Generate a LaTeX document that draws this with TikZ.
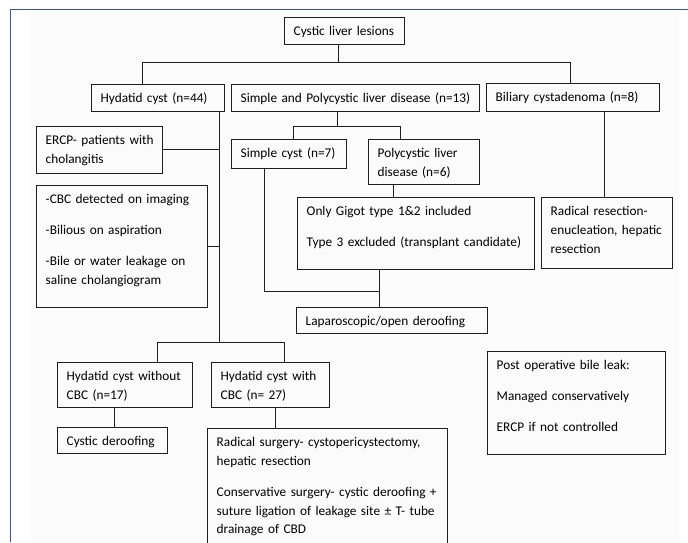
\documentclass[tikz,border=0pt]{standalone}
\usepackage{fontspec}
\setmainfont{Carlito}
\definecolor{frameblue}{RGB}{55,90,165}
\definecolor{ink}{RGB}{30,30,30}
\newcommand\mybox[6]{%
  \node[box, minimum width=#4pt, minimum height=#5pt] (#1) at (#2,#3) {};
  \node[txt] (#1t) at ([shift={(9.5pt,-18.5pt)}]#1.north west) {#6};}
\begin{document}
\begin{tikzpicture}[x=1pt,y=-1pt,
  box/.style={draw=ink, line width=0.95pt, rectangle, inner sep=0pt, outer sep=0pt, anchor=north west},
  txt/.style={anchor=base west, inner sep=0pt, text width=300pt, align=left,
    font=\fontsize{13.3}{18.8}\selectfont, text=black},
  conn/.style={draw=ink, line width=0.95pt}]
\useasboundingbox (0,0) rectangle (688,542);
\clip (0,0) rectangle (688,542);
\fill[black!1.5] (31,10) rectangle (679,542);
\draw[frameblue, line width=1.6pt] (10.5,542) -- (10.5,9.5) -- (688,9.5);

\mybox{top}{284}{17}{120}{27}{Cystic liver lesions}
\mybox{hyd}{91}{84}{133}{27}{Hydatid cyst (n=44)}
\mybox{simp}{231}{84}{248}{27}{Simple and Polycystic liver disease (n=13)}
\mybox{bil}{486}{83}{173}{28}{Biliary cystadenoma (n=8)}
\mybox{ercp}{36}{126}{126}{47}{ERCP- patients with\\cholangitis}
\mybox{cbc}{36}{185}{171}{122}{-CBC detected on imaging\\[12.2pt]-Bilious on aspiration\\[12.2pt]-Bile or water leakage on\\saline cholangiogram}
\mybox{scyst}{231}{139}{115}{29}{Simple cyst (n=7)}
\mybox{poly}{368}{139}{111}{45}{Polycystic liver\\disease (n=6)}
\mybox{gig}{297}{197}{237}{72}{Only Gigot type 1\&2 included\\[12.2pt]Type 3 excluded (transplant candidate)}
\mybox{radres}{541}{197}{131}{71}{Radical resection-\\enucleation, hepatic\\resection}
\mybox{lap}{296}{307}{191}{26}{Laparoscopic/open deroofing}
\mybox{post}{487}{351}{178}{103}{Post operative bile leak:\\[12.2pt]Managed conservatively\\[12.2pt]ERCP if not controlled}
\mybox{wo}{57}{362}{135}{45}{Hydatid cyst without\\CBC (n=17)}
\mybox{with}{211}{362}{118}{45}{Hydatid cyst with\\CBC (n= 27)}
\mybox{cdr}{57}{427}{110}{26}{Cystic deroofing}
\mybox{rsurg}{207}{428}{240}{130}{Radical surgery- cystopericystectomy,\\hepatic resection\\[12.2pt]Conservative surgery- cystic deroofing +\\suture ligation of leakage site ± T- tube\\drainage of CBD}

% junction coordinates
\coordinate (a1) at (338,62);
\coordinate (h1) at (142,62);
\coordinate (b1) at (570,62);
\coordinate (s1) at (337,126);
\coordinate (s2) at (293,126);
\coordinate (s3) at (400,126);
\coordinate (hv) at (219,342);
\coordinate (hl) at (157,342);
\coordinate (hr) at (284,342);
\coordinate (sc) at (264,291);
\coordinate (gx) at (379,291);
\coordinate (px) at (393,0);
\coordinate (bx) at (604,0);
\coordinate (wx) at (114,0);
\coordinate (rx) at (275,0);

\draw[conn] (a1 |- top.south) -- (a1);
\draw[conn] (h1 |- hyd.north) -- (h1) -- (b1) -- (b1 |- bil.north);
\draw[conn] (s1 |- simp.south) -- (s1);
\draw[conn] (s2 |- scyst.north) -- (s2) -- (s3) -- (s3 |- poly.north);
\draw[conn] (hv |- hyd.south) -- (hv);
\draw[conn] (ercp.east) -- (ercp.east -| hv);
\draw[conn] (cbc.east) -- (cbc.east -| hv);
\draw[conn] (hl |- wo.north) -- (hl) -- (hr) -- (hr |- with.north);
\draw[conn] (sc |- scyst.south) -- (sc) -- (gx);
\draw[conn] (gx |- gig.south) -- (gx |- lap.north);
\draw[conn] (px |- poly.south) -- (px |- gig.north);
\draw[conn] (bx |- bil.south) -- (bx |- radres.north);
\draw[conn] (wx |- wo.south) -- (wx |- cdr.north);
\draw[conn] (rx |- with.south) -- (rx |- rsurg.north);
\end{tikzpicture}
\end{document}
